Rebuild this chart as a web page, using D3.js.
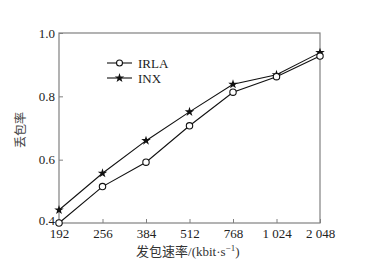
<!DOCTYPE html>
<html><head><meta charset="utf-8">
<script src="https://cdn.jsdelivr.net/npm/d3@7/dist/d3.min.js"></script>
<style>body{margin:0;background:#fff}svg{display:block}</style>
</head><body>
<script>
const categories = ["192","256","384","512","768","1 024","2 048"];
const irla = [0.400,0.515,0.592,0.707,0.813,0.862,0.927];
const inx  = [0.441,0.557,0.660,0.751,0.838,0.868,0.938];
const yTicks = [0.4,0.6,0.8,1.0];

const W=369,H=274, L=59,T=33,R=320,B=223;
const svg=d3.select("body").append("svg").attr("width",W).attr("height",H);
const x=d3.scalePoint().domain(categories).range([L,R]).padding(0);
const y=d3.scaleLinear().domain([0.4,1.0]).range([B,T]);
const serif="'Liberation Serif','DejaVu Serif',serif";
const axisCol="#808080";

svg.append("rect").attr("x",L).attr("y",T).attr("width",R-L).attr("height",B-T)
  .attr("fill","none").attr("stroke",axisCol).attr("stroke-width",1.2);

const gx=svg.append("g").attr("transform",`translate(0,${B})`)
  .call(d3.axisBottom(x).tickSize(-4).tickPadding(6));
gx.select(".domain").remove();
gx.selectAll("line").attr("stroke",axisCol);
gx.selectAll("text").attr("font-family",serif).attr("font-size",13).attr("fill","#222");

const gy=svg.append("g").attr("transform",`translate(${L},0)`)
  .call(d3.axisLeft(y).tickValues(yTicks).tickFormat(d3.format(".1f")).tickSize(-4).tickPadding(4));
gy.select(".domain").remove();
gy.selectAll("line").attr("stroke",axisCol);
gy.selectAll("text").attr("font-family",serif).attr("font-size",13).attr("fill","#222")
  .attr("dy",d=>d===0.4?"0.1em":"0.32em");

const line=d3.line().x((d,i)=>x(categories[i])).y(d=>y(d));
svg.append("path").datum(inx).attr("d",line).attr("fill","none").attr("stroke","#111").attr("stroke-width",1.1);
svg.append("path").datum(irla).attr("d",line).attr("fill","none").attr("stroke","#111").attr("stroke-width",1.1);

const star=d3.symbol().type(d3.symbolStar).size(28);
svg.selectAll(".st").data(inx).enter().append("path")
  .attr("d",star).attr("transform",(d,i)=>`translate(${x(categories[i])},${y(d)})`).attr("fill","#111");
svg.selectAll(".ci").data(irla).enter().append("circle")
  .attr("cx",(d,i)=>x(categories[i])).attr("cy",d=>y(d)).attr("r",3.2)
  .attr("fill","#fff").attr("stroke","#111").attr("stroke-width",1.1);

const lg=[{name:"IRLA",t:"c",yy:63},{name:"INX",t:"s",yy:78}];
lg.forEach(d=>{
  svg.append("line").attr("x1",107).attr("x2",132).attr("y1",d.yy).attr("y2",d.yy).attr("stroke","#111").attr("stroke-width",1.1);
  if(d.t==="c") svg.append("circle").attr("cx",119.5).attr("cy",d.yy).attr("r",3).attr("fill","#fff").attr("stroke","#111").attr("stroke-width",1.1);
  else svg.append("path").attr("d",star).attr("transform",`translate(119.5,${d.yy})`).attr("fill","#111");
  svg.append("text").attr("x",138).attr("y",d.yy+4.5).text(d.name).attr("font-family",serif).attr("font-size",13).attr("fill","#222");
});

const xl=svg.append("text").attr("x",136).attr("y",256).attr("font-size",13).attr("fill","#333")
  .attr("font-family","'Noto Sans CJK SC',sans-serif");
xl.append("tspan").text("发包速率");
xl.append("tspan").attr("font-family",serif).text("/(kbit·s");
xl.append("tspan").attr("font-family",serif).attr("font-size",9).attr("dy",-5).text("−1");
xl.append("tspan").attr("font-family",serif).attr("dy",5).text(")");

svg.append("text").attr("transform","translate(25,130) rotate(-90)").attr("text-anchor","middle")
  .attr("font-size",12).attr("fill","#444").attr("font-family","'Noto Sans CJK SC',sans-serif").text("丢包率");
</script>
</body></html>
